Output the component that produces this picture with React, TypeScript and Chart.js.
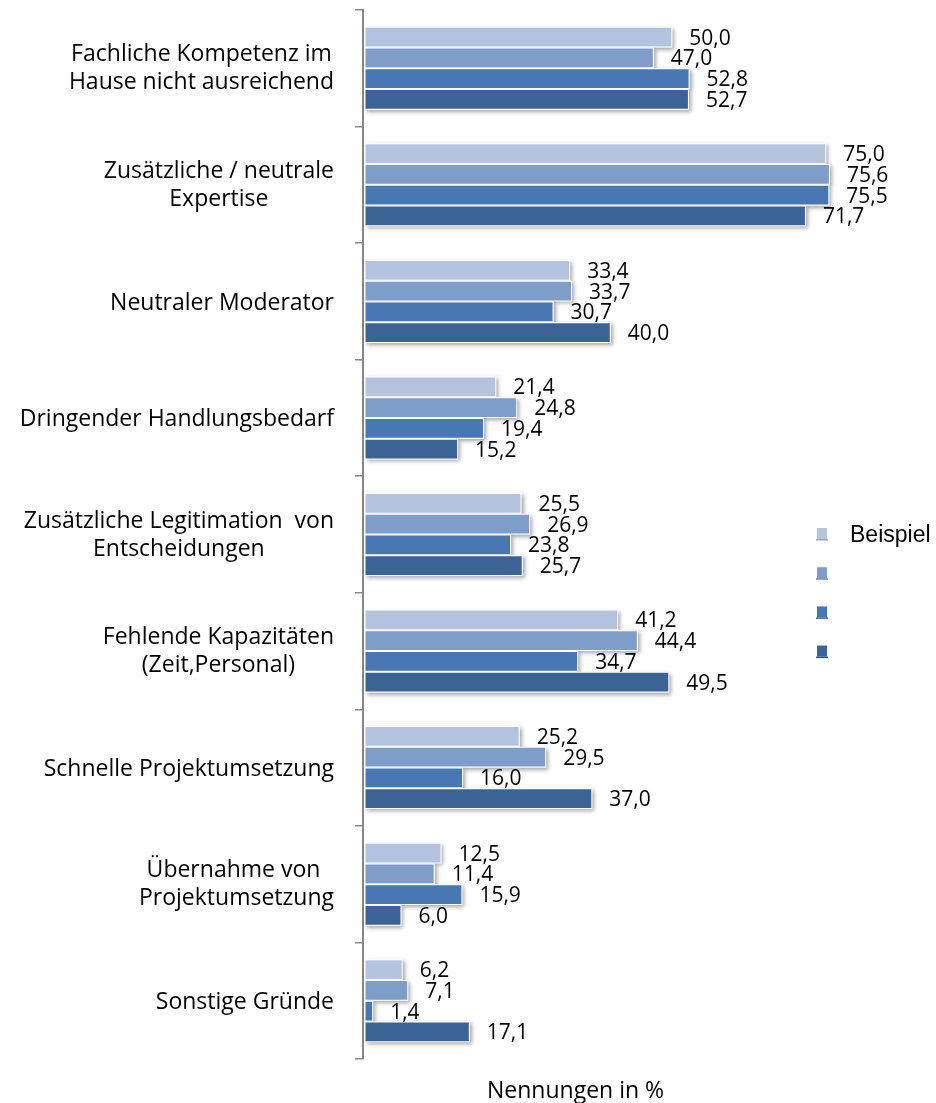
import React, { useEffect, useRef } from "react";
import { Chart, registerables } from "chart.js";

Chart.register(...registerables);

const categories: string[][] = [
  ["Fachliche Kompetenz im", "Hause nicht ausreichend"],
  ["Zusätzliche / neutrale", "Expertise"],
  ["Neutraler Moderator"],
  ["Dringender Handlungsbedarf"],
  ["Zusätzliche Legitimation  von", "Entscheidungen"],
  ["Fehlende Kapazitäten", "(Zeit,Personal)"],
  ["Schnelle Projektumsetzung"],
  ["Übernahme von ", "Projektumsetzung"],
  ["Sonstige Gründe"],
];

const seriesNames = ["Beispiel", "", "", ""];
const series1 = [50.0, 75.0, 33.4, 21.4, 25.5, 41.2, 25.2, 12.5, 6.2];
const series2 = [47.0, 75.6, 33.7, 24.8, 26.9, 44.4, 29.5, 11.4, 7.1];
const series3 = [52.8, 75.5, 30.7, 19.4, 23.8, 34.7, 16.0, 15.9, 1.4];
const series4 = [52.7, 71.7, 40.0, 15.2, 25.7, 49.5, 37.0, 6.0, 17.1];
const seriesColors = ["#B4C4DF", "#7E9DC9", "#4878B2", "#3C6396"];
const legendLineColors = ["#8FA5CC", "#5F82B6", "#33649F", "#2B5083"];
const axisTitle = "Nennungen in %";

const fmt = (v: number) => v.toFixed(1).replace(".", ",");

const shadowPlugin = {
  id: "barShadow",
  beforeDatasetsDraw(chart: any) {
    const ctx = chart.ctx;
    chart.data.datasets.forEach((_: any, di: number) => {
      const meta = chart.getDatasetMeta(di);
      meta.data.forEach((el: any) => {
        const p = el.getProps(["x", "y", "base", "height"], true);
        ctx.save();
        ctx.shadowColor = "rgba(0,0,0,0.35)";
        ctx.shadowBlur = 4;
        ctx.shadowOffsetX = 2;
        ctx.shadowOffsetY = 2;
        ctx.fillStyle = "#ffffff";
        ctx.fillRect(p.base, p.y - p.height / 2, p.x - p.base, p.height);
        ctx.restore();
      });
    });
  },
};

const textPlugin = {
  id: "texts",
  afterDatasetsDraw(chart: any) {
    const ctx = chart.ctx;
    ctx.save();
    // value labels
    const vSize = 21;
    ctx.font = `${vSize}px "Open Sans"`;
    ctx.fillStyle = "#000";
    ctx.textAlign = "left";
    ctx.textBaseline = "alphabetic";
    chart.data.datasets.forEach((ds: any, di: number) => {
      const meta = chart.getDatasetMeta(di);
      meta.data.forEach((el: any, i: number) => {
        const p = el.getProps(["x", "y"], true);
        ctx.fillText(fmt(ds.data[i]), p.x + 17, p.y + 0.714 * vSize / 2);
      });
    });
    ctx.restore();
  },
  afterDraw(chart: any) {
    const ctx = chart.ctx;
    const yScale = chart.scales.y;
    ctx.save();
    ctx.fillStyle = "#000";
    ctx.textBaseline = "alphabetic";
    // category labels
    const cSize = 23;
    ctx.font = `${cSize}px "Open Sans"`;
    const capH = 0.714 * cSize;
    const right = 334;
    const lh = 28;
    categories.forEach((lines, i) => {
      const cy = yScale.getPixelForValue(i);
      const widths = lines.map((l) => ctx.measureText(l).width);
      const block = Math.max(...widths);
      const cx = right - block / 2;
      ctx.textAlign = "center";
      lines.forEach((l, j) => {
        const off = (j - (lines.length - 1) / 2) * lh - (lines.length > 1 ? 1 : 0);
        ctx.fillText(l, cx, cy + off + capH / 2);
      });
    });
    // axis title
    ctx.textAlign = "left";
    ctx.fillText(axisTitle, 487, 1098);
    // legend
    seriesNames.forEach((name, i) => {
      const y = 528 + i * 39.2;
      ctx.fillStyle = seriesColors[i];
      ctx.fillRect(817, y, 10, 11);
      ctx.fillStyle = legendLineColors[i];
      ctx.fillRect(816, y + 11, 12, 1.5);
      if (name) {
        ctx.fillStyle = "#000";
        ctx.font = '23px "Liberation Sans"';
        ctx.fillText(name, 850, 541.7);
      }
    });
    ctx.restore();
  },
};

export default function App() {
  const ref = useRef<HTMLCanvasElement | null>(null);
  useEffect(() => {
    if (!ref.current) return;
    const allSeries = [series1, series2, series3, series4];
    const chart = new Chart(ref.current, {
      type: "bar",
      data: {
        labels: categories.map((c) => c.join(" ")),
        datasets: allSeries.map((d, i) => ({
          label: seriesNames[i],
          data: d,
          backgroundColor: seriesColors[i],
          borderColor: "#ffffff",
          borderWidth: 1,
          borderSkipped: false,
          categoryPercentage: 0.712,
          barPercentage: 1,
        })),
      },
      options: {
        indexAxis: "y",
        animation: false,
        responsive: false,
        events: [],
        layout: { padding: { left: 0, top: 10, right: 79, bottom: 44 } },
        plugins: {
          legend: { display: false },
          tooltip: { enabled: false },
          title: { display: false },
        },
        scales: {
          x: { display: false, min: -0.25, max: 80 },
          y: {
            grid: {
              offset: true,
              drawOnChartArea: false,
              drawTicks: true,
              tickLength: 8,
              color: "#878787",
              lineWidth: 1.5,
            },
            border: { display: true, color: "#878787", width: 2 },
            ticks: { display: false },
            afterFit: (s: any) => {
              s.width = 363;
            },
          },
        },
      },
      plugins: [shadowPlugin, textPlugin],
    });
    return () => chart.destroy();
  }, []);
  return (
    <div style={{ position: "fixed", left: 0, top: 0, width: 936, height: 1103, background: "#fff" }}>
      <canvas ref={ref} width={936} height={1103} style={{ width: 936, height: 1103, display: "block" }} />
    </div>
  );
}
